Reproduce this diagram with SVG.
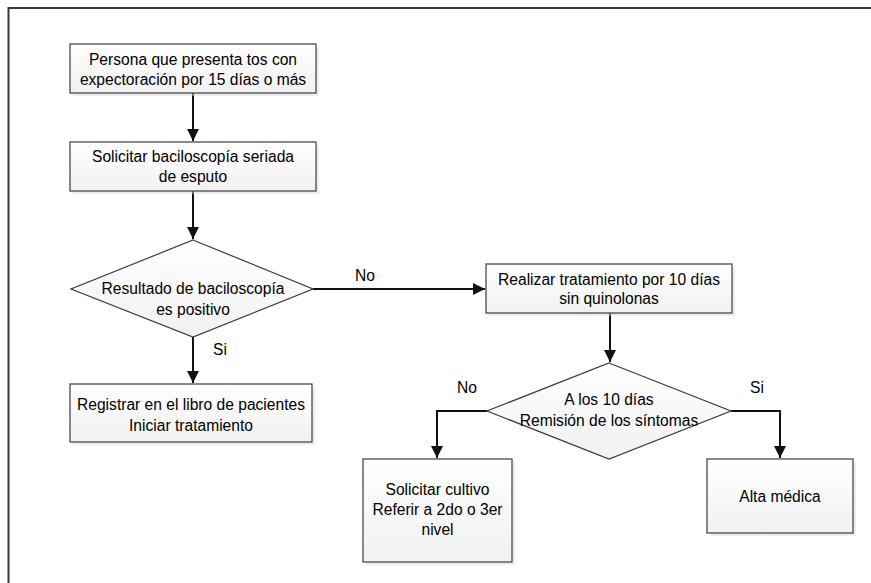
<svg xmlns="http://www.w3.org/2000/svg" width="871" height="583" viewBox="0 0 871 583">
<style>
  .box{fill:url(#g);stroke:#3c3c3c;stroke-width:1.2}
  .sh{fill:#d6d6d6;opacity:0.45}
  .t{font-family:"Liberation Sans",Arial,sans-serif;font-size:15.6px;fill:#000;text-anchor:middle}
  .l{font-family:"Liberation Sans",Arial,sans-serif;font-size:15.6px;fill:#000}
  .c{fill:none;stroke:#111;stroke-width:2}
</style>
<defs>
  <linearGradient id="g" x1="0" y1="0" x2="0" y2="1">
    <stop offset="0" stop-color="#ffffff"/>
    <stop offset="1" stop-color="#f1f1f1"/>
  </linearGradient>
  <marker id="a" viewBox="0 0 10 10" refX="10" refY="5" markerWidth="6" markerHeight="6" markerUnits="strokeWidth" orient="auto">
    <path d="M0,0 L10,5 L0,10 z" fill="#111"/>
  </marker>
</defs>
<rect width="871" height="583" fill="#fff"/>
<path d="M8.5,583 V8 H871" fill="none" stroke="#3a3a3a" stroke-width="2"/>

<g id="connectors">
  <line class="c" x1="193" y1="93" x2="193" y2="141" marker-end="url(#a)"/>
  <line class="c" x1="193" y1="191" x2="193" y2="239" marker-end="url(#a)"/>
  <line class="c" x1="193" y1="337" x2="193" y2="383" marker-end="url(#a)"/>
  <line class="c" x1="313" y1="289" x2="485" y2="289" marker-end="url(#a)"/>
  <line class="c" x1="610" y1="313" x2="610" y2="362" marker-end="url(#a)"/>
  <path class="c" d="M487,411 H437 V458" marker-end="url(#a)"/>
  <path class="c" d="M731,411 H780 V458" marker-end="url(#a)"/>
  <text class="l" x="213" y="355">Si</text>
  <text class="l" x="355" y="281">No</text>
  <text class="l" x="457" y="393">No</text>
  <text class="l" x="750" y="393">Si</text>
</g>

<g id="n1">
  <rect class="sh" x="73" y="47" width="246" height="49"/>
  <rect class="box" x="70" y="44" width="246" height="49"/>
  <text class="t" x="193" y="65">Persona que presenta tos con</text>
  <text class="t" x="193" y="85">expectoración por 15 días o más</text>
</g>
<g id="n2">
  <rect class="sh" x="73" y="145" width="246" height="49"/>
  <rect class="box" x="70" y="142" width="246" height="49"/>
  <text class="t" x="193" y="162">Solicitar baciloscopía seriada</text>
  <text class="t" x="193" y="182">de esputo</text>
</g>
<g id="n3">
  <polygon class="box" points="193,240 313,289 193,337 71,289"/>
  <text class="t" x="193" y="294">Resultado de baciloscopía</text>
  <text class="t" x="193" y="315">es positivo</text>
</g>
<g id="n4">
  <rect class="sh" x="73" y="387" width="242" height="58"/>
  <rect class="box" x="70" y="384" width="242" height="58"/>
  <text class="t" x="191" y="410">Registrar en el libro de pacientes</text>
  <text class="t" x="191" y="431">Iniciar tratamiento</text>
</g>
<g id="n5">
  <rect class="sh" x="489" y="267" width="246" height="49"/>
  <rect class="box" x="486" y="264" width="246" height="49"/>
  <text class="t" x="609" y="285">Realizar tratamiento por 10 días</text>
  <text class="t" x="609" y="304">sin quinolonas</text>
</g>
<g id="n6">
  <polygon class="box" points="609,363 731,411 609,459 487,411"/>
  <text class="t" x="609" y="405">A los 10 días</text>
  <text class="t" x="609" y="426">Remisión de los síntomas</text>
</g>
<g id="n7">
  <rect class="sh" x="366" y="462" width="149" height="103"/>
  <rect class="box" x="363" y="459" width="149" height="103"/>
  <text class="t" x="437.5" y="495">Solicitar cultivo</text>
  <text class="t" x="437.5" y="515">Referir a 2do o 3er</text>
  <text class="t" x="437.5" y="535">nivel</text>
</g>
<g id="n8">
  <rect class="sh" x="710" y="462" width="146" height="74"/>
  <rect class="box" x="707" y="459" width="146" height="74"/>
  <text class="t" x="780" y="502">Alta médica</text>
</g>
</svg>
